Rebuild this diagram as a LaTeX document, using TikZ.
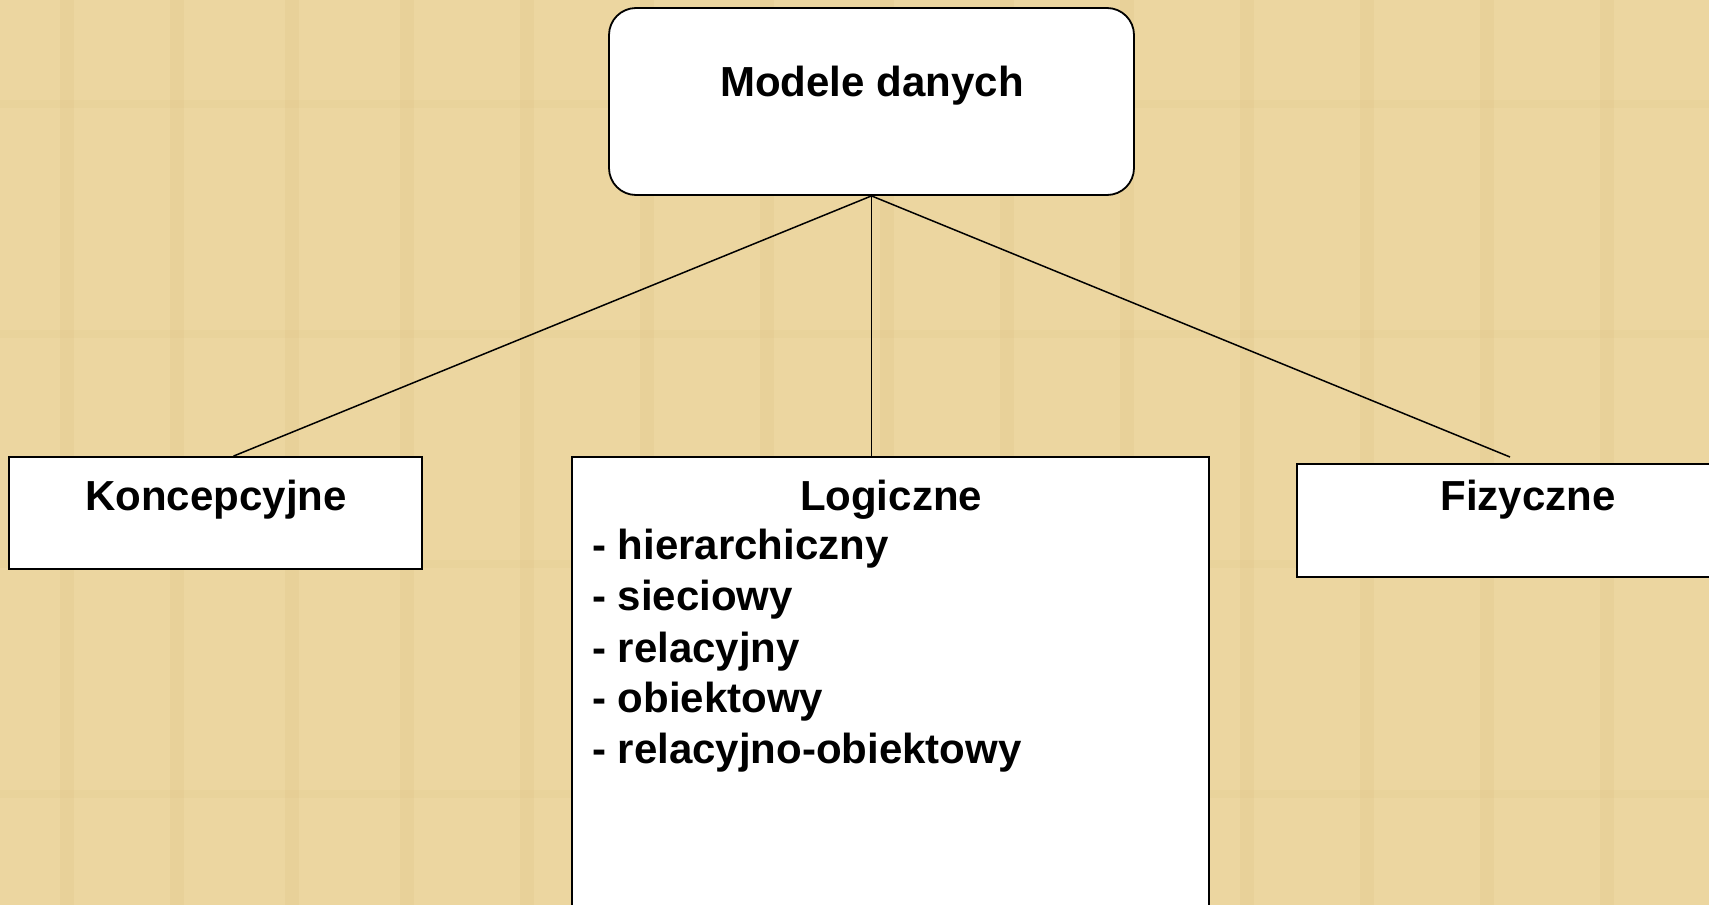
\documentclass[tikz,border=0pt]{standalone}
\usepackage{fontspec}
\setmainfont{Liberation Sans}
\usetikzlibrary{calc}
\definecolor{paper}{RGB}{236,214,160}
\definecolor{paperdark}{RGB}{218,190,125}
\tikzset{
  box/.style={draw=black, fill=white, line width=1.8pt, inner sep=0pt},
  lbl/.style={font=\bfseries\fontsize{42}{50}\selectfont, inner sep=0pt, anchor=base},
  conn/.style={draw=black, line width=1.5pt}
}
\begin{document}
\begin{tikzpicture}[x=1pt,y=-1pt]
\useasboundingbox (0,0) rectangle (1709,905);
\fill[paper] (0,0) rectangle (1709,905);
% faint papyrus texture
\foreach \x in {60,170,285,400,520,640,760,880,1000,1120,1240,1360,1480,1600}
  \fill[paperdark, opacity=0.18] (\x,0) rectangle (\x+14,905);
\foreach \y in {100,330,560,790}
  \fill[paperdark, opacity=0.12] (0,\y) rectangle (1709,\y+8);
% boxes
\node[box, rounded corners=27pt, minimum width=525pt, minimum height=187pt] (top) at (871.5,101.5) {};
\node[box, minimum width=413pt, minimum height=112pt] (k) at (215.5,513) {};
\node[box, minimum width=637pt, minimum height=500pt] (l) at (890.5,707) {};
\node[box, minimum width=463pt, minimum height=113pt] (f) at (1528.5,520.5) {};
\coordinate (fend) at (1510,457);
% connectors
\draw[conn] (top.south) -- ([xshift=18pt]k.north);
\draw[conn] (top.south) -- (top.south |- l.north);
\draw[conn] (top.south) -- (fend);
% texts
\node[lbl] (tt) at (872,96) {Modele danych};
\node[lbl] (kt) at (216,510) {Koncepcyjne};
\node[lbl] (lt) at (891,510) {Logiczne};
\node[lbl] (ft) at (1528,510) {Fizyczne};
\node[lbl, anchor=base west] (l1) at (592,559) {- hierarchiczny};
\node[lbl, anchor=base west] (l2) at (592,610) {- sieciowy};
\node[lbl, anchor=base west] (l3) at (592,662) {- relacyjny};
\node[lbl, anchor=base west] (l4) at (592,712) {- obiektowy};
\node[lbl, anchor=base west] (l5) at (592,763) {- relacyjno-obiektowy};
\end{tikzpicture}
\end{document}
